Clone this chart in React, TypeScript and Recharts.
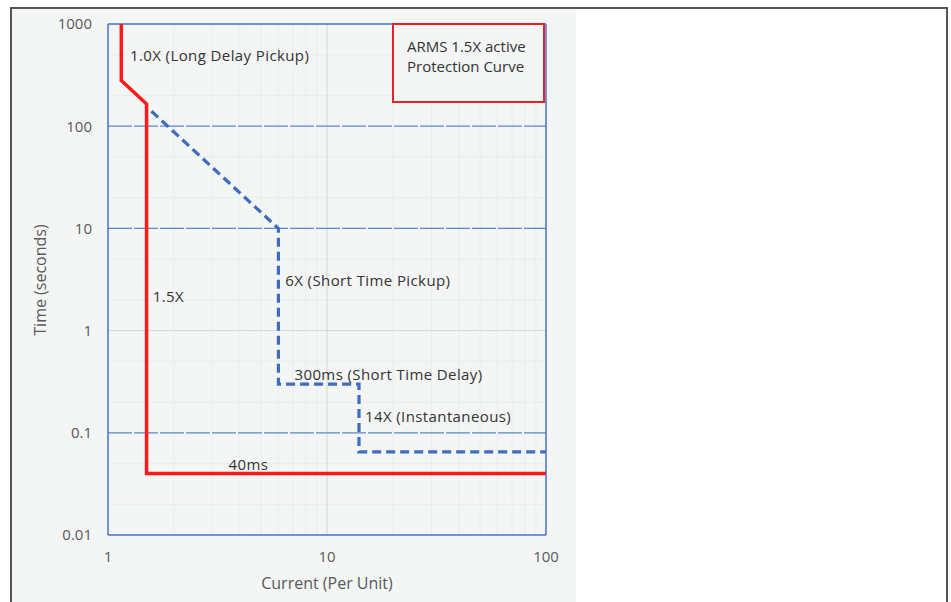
import React from 'react';
import {
  LineChart, Line, XAxis, YAxis, ReferenceLine, ReferenceDot,
} from 'recharts';

// Current (per unit) vs trip time (seconds)
const activeCurve = [
  { x: 1.15, y: 1000 },
  { x: 1.15, y: 280 },
  { x: 1.5, y: 165 },
  { x: 1.5, y: 0.04 },
  { x: 100, y: 0.04 },
];

const standardCurve = [
  { x: 1.58, y: 140 },
  { x: 6, y: 10 },
  { x: 6, y: 0.3 },
  { x: 14, y: 0.3 },
  { x: 14, y: 0.065 },
  { x: 100, y: 0.065 },
];

const xTicks = [1, 10, 100];
const yTicks = [0.01, 0.1, 1, 10, 100, 1000];
const blueGridY = [100, 10, 0.1];
const grayGridY = [1];
const grayGridX = [10];
const minorX = [2, 3, 4, 5, 6, 7, 8, 9, 20, 30, 40, 50, 60, 70, 80, 90];
const minorY = [0.02, 0.05, 0.2, 0.5, 2, 5, 20, 50, 200, 500];

// annotations anchored at data coordinates
const notes = [
  { x: 1.26, y: 500, text: '1.0X (Long Delay Pickup)' },
  { x: 1.6, y: 2.2, text: '1.5X' },
  { x: 6.45, y: 3.1, text: '6X (Short Time Pickup)' },
  { x: 7.1, y: 0.38, text: '300ms (Short Time Delay)' },
  { x: 14.9, y: 0.145, text: '14X (Instantaneous)' },
  { x: 3.55, y: 0.05, text: '40ms' },
];

const FONT = '"Open Sans", sans-serif';
const BLUE = '#4472C4';

const NoteLabel = (text: string) => (props: any) => {
  const vb = props.viewBox || {};
  const cx = vb.cx !== undefined ? vb.cx : vb.x + (vb.width || 0) / 2;
  const cy = vb.cy !== undefined ? vb.cy : vb.y + (vb.height || 0) / 2;
  return (
    <text x={cx} y={cy} fill="#333" fontSize={15} letterSpacing={0.4} fontFamily={FONT} dominantBaseline="central">
      {text}
    </text>
  );
};

export default function App() {
  return (
    <div style={{ position: 'fixed', left: 0, top: 0, width: 951, height: 602, background: '#fff', overflow: 'hidden' }}>
      <div style={{ position: 'absolute', left: 10, top: 7, width: 934, height: 600, borderTop: '2px solid #555', borderLeft: '2px solid #555', borderRight: '2px solid #555' }} />
      <div style={{ position: 'absolute', left: 12, top: 9, width: 564, height: 593, background: '#f4f5f5' }} />
      <div style={{ position: 'absolute', left: 0, top: 0 }}>
        <LineChart width={951} height={602} margin={{ top: 24, right: 405, left: 48, bottom: 27 }}>
          <XAxis
            type="number" dataKey="x" scale="log" domain={[1, 100]} ticks={xTicks}
            allowDataOverflow height={40} tickSize={0} tickMargin={16}
            axisLine={{ stroke: BLUE, strokeWidth: 1.5 }}
            tick={{ fill: '#595959', fontSize: 15, fontFamily: FONT }}
          />
          <YAxis
            type="number" dataKey="y" scale="log" domain={[0.01, 1000]} ticks={yTicks}
            allowDataOverflow width={60} tickSize={0} tickMargin={16}
            axisLine={{ stroke: BLUE, strokeWidth: 1.5 }}
            tick={{ fill: '#595959', fontSize: 15, fontFamily: FONT }}
          />
          {minorX.map((v) => (
            <ReferenceLine key={'mx' + v} x={v} stroke="#eaeced" strokeWidth={1} />
          ))}
          {minorY.map((v) => (
            <ReferenceLine key={'my' + v} y={v} stroke="#eaeced" strokeWidth={1} />
          ))}
          {grayGridX.map((v) => (
            <ReferenceLine key={'gx' + v} x={v} stroke="#d4d6d8" strokeWidth={1} />
          ))}
          {grayGridY.map((v) => (
            <ReferenceLine key={'gy' + v} y={v} stroke="#d4d6d8" strokeWidth={1} />
          ))}
          {blueGridY.map((v) => (
            <ReferenceLine key={'by' + v} y={v} stroke="#5b85cf" strokeWidth={1.3} strokeDasharray="24 2" />
          ))}
          <ReferenceLine y={1000} stroke={BLUE} strokeWidth={1.5} />
          <ReferenceLine x={100} stroke={BLUE} strokeWidth={1.5} />
          <Line
            data={standardCurve} dataKey="y" type="linear" stroke="#3d6cc0" strokeWidth={3.2}
            strokeDasharray="9 5" dot={false} isAnimationActive={false}
          />
          <Line
            data={activeCurve} dataKey="y" type="linear" stroke="#ff1a1a" strokeWidth={3.5}
            dot={false} isAnimationActive={false}
          />
          {notes.map((n) => (
            <ReferenceDot key={n.text} x={n.x} y={n.y} r={0} fill="none" stroke="none" label={NoteLabel(n.text)} />
          ))}
        </LineChart>
      </div>
      <div style={{ position: 'absolute', left: 392, top: 23, width: 153, height: 80, border: '2px solid #e8202a', background: '#f4f5f5', fontFamily: FONT, fontSize: 15, color: '#333', lineHeight: '20px', padding: '11px 0 0 13px', boxSizing: 'border-box' }}>
        ARMS 1.5X active<br />Protection Curve
      </div>
      <div style={{ position: 'absolute', left: 207, top: 572, width: 240, textAlign: 'center', fontFamily: FONT, fontSize: 16, color: '#595959' }}>
        Current (Per Unit)
      </div>
      <div style={{ position: 'absolute', left: -60, top: 269, width: 200, textAlign: 'center', fontFamily: FONT, fontSize: 16, color: '#595959', transform: 'rotate(-90deg)' }}>
        Time (seconds)
      </div>
    </div>
  );
}
